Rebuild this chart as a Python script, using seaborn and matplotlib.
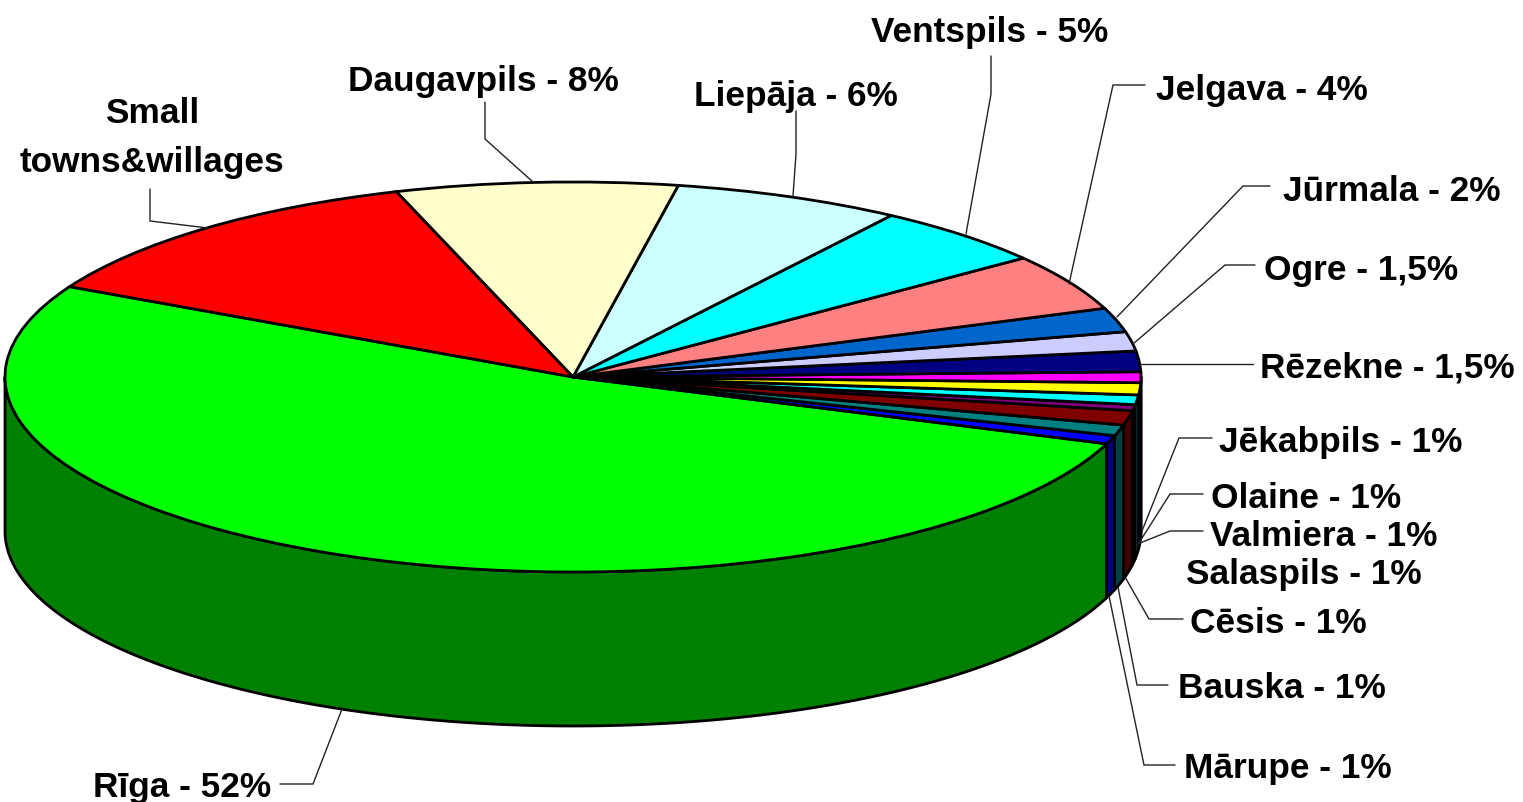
import numpy as np
import matplotlib
matplotlib.use("Agg")
import matplotlib.pyplot as plt
import matplotlib.colors as mcolors
import seaborn as sns

# slice order runs counter-clockwise from the left edge of Rīga
names = ["Rīga - 52%", "Mārupe - 1%", "Bauska - 1%", "Cēsis - 1%", "Salaspils - 1%",
         "Valmiera - 1%", "Olaine - 1%", "Jēkabpils - 1%", "Rēzekne - 1,5%", "Ogre - 1,5%",
         "Jūrmala - 2%", "Jelgava - 4%", "Ventspils - 5%", "Liepāja - 6%",
         "Daugavpils - 8%", "Small\ntowns&willages"]
shares = [52.1, 0.7, 0.9, 1.2, 0.5, 0.8, 1.0, 0.9, 1.7, 1.6, 2.0, 4.7, 5.1, 6.5, 8.0, 12.3]
top_colors = ["#00FF00", "#0000FF", "#008080", "#800000", "#800080", "#00FFFF", "#FFFF00",
              "#FF00FF", "#000080", "#CCCCFF", "#0066CC", "#FF8080", "#00FFFF", "#CCFFFF",
              "#FFFFCC", "#FF0000"]

W, H = 1523, 803
CX, CY, RX, RY, DEPTH = 573, 378, 568, 195, 154
START = 152.4


def px(x, y):
    return (x - CX) / RX, (CY - y) / RY


sns.set_theme(style="white")
plt.rcParams["font.family"] = ["Liberation Sans", "DejaVu Sans"]
palette = sns.color_palette(top_colors)
wall_palette = [tuple(c * 0.5 for c in mcolors.to_rgb(col)) for col in palette]

fig = plt.figure(figsize=(W / 100, H / 100), dpi=100, facecolor="white")
ax = fig.add_axes([0, 0, 1, 1])

# side wall, front half of the cylinder only
edges = START + np.concatenate([[0], np.cumsum(shares)]) * 3.6
d = DEPTH / RY
for a0, a1, c in zip(edges[:-1], edges[1:], wall_palette):
    lo, hi = max(a0, 180), min(a1, 360)
    if hi <= lo:
        continue
    t = np.radians(np.linspace(lo, hi, 200))
    xs = np.concatenate([np.cos(t), np.cos(t[::-1])])
    ys = np.concatenate([np.sin(t), np.sin(t[::-1]) - d])
    ax.fill(xs, ys, facecolor=c, edgecolor="black", linewidth=2.0, joinstyle="round", zorder=1)

wedges, _ = ax.pie(shares, colors=palette, startangle=START, counterclock=True,
                   wedgeprops=dict(edgecolor="black", linewidth=2.0, zorder=2))
for w in wedges:
    w.set_zorder(2)

ax.set_aspect("auto")
ax.set_xlim(-CX / RX, (W - CX) / RX)
ax.set_ylim((CY - H) / RY, CY / RY)
ax.axis("off")

leaders = [
    [(342, 710), (313, 785), (280, 785)],
    [(150, 190), (150, 222), (208, 229)],
    [(485, 103), (485, 140), (533, 183)],
    [(796, 112), (796, 155), (793, 197)],
    [(991, 57), (991, 95), (966, 235)],
    [(1145, 86), (1113, 86), (1069, 285)],
    [(1270, 187), (1243, 187), (1117, 318)],
    [(1255, 266), (1225, 266), (1133, 345)],
    [(1253, 365), (1140, 365)],
    [(1212, 439), (1179, 439), (1142, 532)],
    [(1203, 495), (1170, 495), (1137, 547)],
    [(1203, 532), (1170, 532), (1140, 544)],
    [(1183, 620), (1149, 620), (1125, 578)],
    [(1168, 686), (1137, 686), (1118, 588)],
    [(1175, 766), (1144, 766), (1109, 597)],
]
for pts in leaders:
    lx, ly = zip(*[px(*p) for p in pts])
    ax.plot(lx, ly, color="#222222", lw=1.0, zorder=3, solid_joinstyle="miter")

label_pos = {
    "Rīga - 52%": (93, 797), "Mārupe - 1%": (1184, 778), "Bauska - 1%": (1178, 698),
    "Cēsis - 1%": (1190, 633), "Salaspils - 1%": (1186, 584), "Valmiera - 1%": (1210, 546),
    "Olaine - 1%": (1211, 508), "Jēkabpils - 1%": (1219, 452), "Rēzekne - 1,5%": (1260, 378),
    "Ogre - 1,5%": (1264, 280), "Jūrmala - 2%": (1283, 201), "Jelgava - 4%": (1156, 100),
    "Ventspils - 5%": (871, 42), "Liepāja - 6%": (694, 106), "Daugavpils - 8%": (348, 91),
}
FS = 25.4
for name in names:
    if name in label_pos:
        x, y = px(*label_pos[name])
        ax.text(x, y, name, fontsize=FS, fontweight="bold", color="black",
                ha="left", va="baseline", zorder=4)
    else:
        first, second = name.split("\n")
        for txt, yp in ((first, 123), (second, 172)):
            x, y = px(152, yp)
            ax.text(x, y, txt, fontsize=FS, fontweight="bold", color="black",
                    ha="center", va="baseline", zorder=4)

fig.savefig("out.png", dpi=100, facecolor="white")
